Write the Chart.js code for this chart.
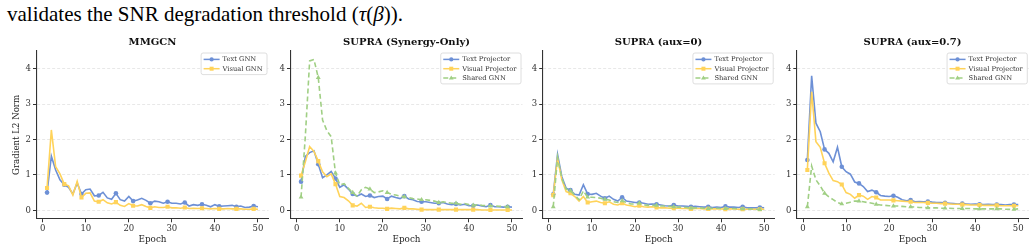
<!DOCTYPE html>
<html>
<head>
<meta charset="utf-8">
<script src="https://cdn.jsdelivr.net/npm/chart.js@4/dist/chart.umd.min.js"></script>
<style>
  body { margin: 0; width: 1036px; height: 251px; overflow: hidden; background: #fff; position: relative; }
  #cap { position: absolute; left: 7px; top: 2px; font: 21px/24px "Liberation Serif", serif; color: #000; white-space: nowrap; }
  canvas { position: absolute; top: 30px; }
</style>
</head>
<body>
<div id="cap">validates the SNR degradation threshold (<i>τ</i>(<i>β</i>)).</div>
<canvas id="c0" width="305" height="221" style="left:0px"></canvas>
<canvas id="c1" width="305" height="221" style="left:254px"></canvas>
<canvas id="c2" width="305" height="221" style="left:506px"></canvas>
<canvas id="c3" width="305" height="221" style="left:760px"></canvas>
<script>
// epochs and axis ticks
const epochs = [1,2,3,4,5,6,7,8,9,10,11,12,13,14,15,16,17,18,19,20,21,22,23,24,25,
                26,27,28,29,30,31,32,33,34,35,36,37,38,39,40,41,42,43,44,45,46,47,48,49,50];
const xTicks = [0, 10, 20, 30, 40, 50];
const yTicks = [0, 1, 2, 3, 4];
const titles = ["MMGCN", "SUPRA (Synergy-Only)", "SUPRA (aux=0)", "SUPRA (aux=0.7)"];

// MMGCN
const mmgcnText = [0.50,1.53,1.14,0.86,0.72,0.65,0.46,0.77,0.46,0.58,
                   0.60,0.41,0.42,0.51,0.35,0.31,0.48,0.30,0.26,0.39,
                   0.26,0.29,0.34,0.28,0.20,0.26,0.24,0.20,0.24,0.20,
                   0.20,0.18,0.22,0.12,0.16,0.14,0.17,0.14,0.10,0.16,
                   0.11,0.12,0.13,0.14,0.10,0.12,0.08,0.09,0.12,0.10];
const mmgcnVisual = [0.63,2.27,1.23,1.03,0.74,0.69,0.43,0.82,0.36,0.48,
                     0.49,0.26,0.24,0.30,0.21,0.18,0.23,0.14,0.11,0.19,
                     0.13,0.12,0.16,0.11,0.07,0.10,0.08,0.08,0.10,0.07,
                     0.07,0.06,0.08,0.05,0.06,0.05,0.06,0.05,0.04,0.05,
                     0.04,0.04,0.05,0.04,0.04,0.04,0.03,0.03,0.04,0.03];

// SUPRA (Synergy-Only)
const synText = [0.81,1.52,1.63,1.68,1.30,0.92,1.00,1.10,0.90,0.65,
                 0.72,0.60,0.46,0.40,0.46,0.39,0.42,0.36,0.39,0.40,
                 0.32,0.40,0.36,0.33,0.40,0.32,0.30,0.25,0.24,0.24,
                 0.22,0.20,0.20,0.22,0.18,0.16,0.18,0.15,0.17,0.13,
                 0.13,0.15,0.12,0.10,0.15,0.10,0.10,0.09,0.10,0.09];
const synVisual = [0.98,1.37,1.80,1.66,1.39,1.09,0.95,1.03,0.74,0.39,
                   0.36,0.27,0.14,0.12,0.20,0.08,0.10,0.07,0.06,0.06,
                   0.04,0.06,0.05,0.04,0.07,0.04,0.04,0.03,0.02,0.02,
                   0.02,0.02,0.02,0.02,0.02,0.02,0.02,0.02,0.02,0.02,
                   0.02,0.02,0.01,0.01,0.01,0.01,0.01,0.01,0.01,0.01];
const synShared = [0.37,2.10,4.22,4.26,3.75,2.55,2.25,2.08,1.05,0.72,
                   0.75,0.62,0.50,0.40,0.58,0.65,0.60,0.50,0.52,0.55,
                   0.50,0.45,0.43,0.40,0.38,0.36,0.33,0.32,0.30,0.30,
                   0.28,0.26,0.22,0.24,0.22,0.20,0.20,0.17,0.19,0.16,
                   0.14,0.16,0.14,0.13,0.12,0.13,0.11,0.11,0.10,0.10];

// SUPRA (aux=0)
const aux0Text = [0.45,1.58,0.95,0.62,0.57,0.45,0.43,0.72,0.46,0.45,
                  0.48,0.40,0.34,0.40,0.31,0.26,0.37,0.26,0.24,0.22,
                  0.22,0.20,0.17,0.18,0.17,0.15,0.13,0.12,0.15,0.12,
                  0.12,0.11,0.10,0.11,0.10,0.09,0.10,0.08,0.09,0.08,
                  0.11,0.09,0.09,0.08,0.10,0.07,0.07,0.07,0.08,0.07];
const aux0Visual = [0.43,1.47,0.86,0.53,0.48,0.39,0.26,0.39,0.22,0.24,
                    0.26,0.22,0.20,0.24,0.17,0.15,0.20,0.15,0.13,0.10,
                    0.13,0.10,0.09,0.10,0.08,0.07,0.07,0.06,0.06,0.06,
                    0.05,0.05,0.04,0.05,0.05,0.04,0.04,0.04,0.04,0.04,
                    0.03,0.04,0.04,0.03,0.03,0.03,0.03,0.03,0.03,0.03];
const aux0Shared = [0.10,1.50,0.90,0.60,0.55,0.43,0.30,0.55,0.37,0.37,
                    0.36,0.34,0.31,0.29,0.24,0.22,0.27,0.22,0.18,0.18,
                    0.20,0.15,0.14,0.14,0.14,0.12,0.12,0.11,0.10,0.09,
                    0.09,0.08,0.06,0.07,0.07,0.06,0.05,0.06,0.06,0.05,
                    0.05,0.05,0.05,0.04,0.04,0.04,0.04,0.03,0.02,0.03];

// SUPRA (aux=0.7)
const aux07Text = [1.42,3.80,2.46,2.22,1.72,1.61,1.37,1.78,1.23,1.09,
                   1.02,0.80,0.76,0.67,0.53,0.57,0.51,0.42,0.40,0.39,
                   0.41,0.37,0.30,0.27,0.29,0.24,0.25,0.24,0.25,0.23,
                   0.22,0.22,0.21,0.20,0.19,0.18,0.19,0.18,0.17,0.18,
                   0.17,0.16,0.17,0.16,0.16,0.16,0.15,0.16,0.16,0.16];
const aux07Visual = [1.14,3.35,1.94,1.78,1.33,1.05,0.84,0.81,0.73,0.50,
                     0.45,0.34,0.43,0.40,0.31,0.39,0.36,0.29,0.29,0.29,
                     0.28,0.27,0.26,0.25,0.24,0.22,0.22,0.22,0.21,0.20,
                     0.20,0.19,0.19,0.18,0.17,0.17,0.16,0.16,0.15,0.15,
                     0.15,0.14,0.14,0.14,0.14,0.13,0.13,0.13,0.13,0.13];
const aux07Shared = [0.10,1.25,0.86,0.69,0.48,0.38,0.30,0.22,0.18,0.20,
                     0.23,0.26,0.26,0.24,0.22,0.20,0.17,0.15,0.14,0.13,
                     0.12,0.12,0.11,0.10,0.10,0.09,0.08,0.08,0.07,0.07,
                     0.07,0.06,0.06,0.06,0.05,0.05,0.05,0.05,0.05,0.04,
                     0.04,0.04,0.04,0.04,0.04,0.04,0.03,0.03,0.03,0.04];

const BLUE = "#6d90d6", YELLOW = "#ffd35a", GREEN = "#a0cf84";
const FONT = "DejaVu Serif";

function textSet(label, data) {
    return { label: label, data: data, borderColor: BLUE, backgroundColor: BLUE,
             pointStyle: "circle", pointRadius: c => (c.dataIndex % 4 === 0 ? 2.3 : 0), order: 3 };
}
function visualSet(label, data) {
    return { label: label, data: data, borderColor: YELLOW, backgroundColor: YELLOW,
             pointStyle: "rect", pointRadius: c => (c.dataIndex % 4 === 0 ? 2.9 : 0), order: 2 };
}
function sharedSet(label, data) {
    return { label: label, data: data, borderColor: GREEN, backgroundColor: GREEN, borderDash: [5, 3],
             pointStyle: "triangle", pointRadius: c => (c.dataIndex % 4 === 0 ? 2.8 : 0), order: 1 };
}

const panels = [
    [textSet("Text GNN", mmgcnText), visualSet("Visual GNN", mmgcnVisual)],
    [textSet("Text Projector", synText), visualSet("Visual Projector", synVisual), sharedSet("Shared GNN", synShared)],
    [textSet("Text Projector", aux0Text), visualSet("Visual Projector", aux0Visual), sharedSet("Shared GNN", aux0Shared)],
    [textSet("Text Projector", aux07Text), visualSet("Visual Projector", aux07Visual), sharedSet("Shared GNN", aux07Shared)]
];
const canvasLeft = [0, 254, 506, 760];
const plotLeft = [36.5, 290.5, 542.7, 796.8];
const PLOT_W = 232;

// legend box drawn inside the plot, top right (like matplotlib's loc="upper right")
const insetLegend = {
    id: "insetLegend",
    afterDraw(chart) {
        const { ctx, chartArea } = chart;
        const sets = chart.data.datasets;
        ctx.save();
        ctx.font = "6.7px '" + FONT + "'";
        const tw = Math.max(...sets.map(d => ctx.measureText(d.label).width));
        const w = tw + 26, h = sets.length * 9.3 + 3;
        const x = chartArea.right - 1.5 - w, y = chartArea.top + 2;
        ctx.fillStyle = "rgba(255,255,255,0.85)";
        ctx.strokeStyle = "#d6d6d6";
        ctx.lineWidth = 0.8;
        ctx.beginPath();
        ctx.roundRect(x, y, w, h, 2);
        ctx.fill();
        ctx.stroke();
        sets.forEach((d, i) => {
            const cy = y + 6.4 + i * 9.3;
            ctx.strokeStyle = d.borderColor;
            ctx.lineWidth = 1.5;
            ctx.setLineDash(d.borderDash || []);
            ctx.beginPath();
            ctx.moveTo(x + 2.5, cy);
            ctx.lineTo(x + 18.5, cy);
            ctx.stroke();
            ctx.setLineDash([]);
            ctx.fillStyle = d.borderColor;
            const mx = x + 10.5;
            ctx.beginPath();
            if (d.pointStyle === "circle") {
                ctx.arc(mx, cy, 2.1, 0, Math.PI * 2);
            } else if (d.pointStyle === "rect") {
                ctx.rect(mx - 2, cy - 2, 4, 4);
            } else {
                ctx.moveTo(mx, cy - 2.6);
                ctx.lineTo(mx + 2.4, cy + 1.6);
                ctx.lineTo(mx - 2.4, cy + 1.6);
                ctx.closePath();
            }
            ctx.fill();
            ctx.fillStyle = "#333";
            ctx.textBaseline = "middle";
            ctx.fillText(d.label, x + 21.5, cy + 0.3);
        });
        ctx.restore();
    }
};

panels.forEach((sets, k) => {
    const yw = plotLeft[k] - canvasLeft[k];
    sets.forEach(s => {
        s.borderWidth = 1.6;
        s.tension = 0;
        s.pointBorderWidth = 0;
        s.pointHoverRadius = 0;
    });
    new Chart(document.getElementById("c" + k), {
        type: "line",
        data: { labels: epochs, datasets: sets },
        plugins: [insetLegend],
        options: {
            responsive: false,
            animation: false,
            events: [],
            layout: { padding: 0 },
            plugins: {
                legend: { display: false },
                tooltip: { enabled: false },
                title: {
                    display: true, text: titles[k], color: "#111",
                    font: { family: FONT, size: 10, weight: "bold" },
                    padding: { top: 6, bottom: 3 }
                }
            },
            scales: {
                x: {
                    type: "linear", min: -1.45, max: 52.45,
                    afterBuildTicks: s => { s.ticks = xTicks.map(v => ({ value: v })); },
                    afterFit: s => { s.height = 32.2; },
                    grid: { drawOnChartArea: false, tickLength: 3.5, tickColor: "#333", tickWidth: 1 },
                    border: { color: "#333", width: 1.1 },
                    ticks: { color: "#333", font: { family: FONT, size: 8.5 }, padding: 1, maxRotation: 0, autoSkip: false },
                    title: { display: true, text: "Epoch", color: "#222", font: { family: FONT, size: 8.8 },
                             padding: { top: 0, bottom: 6.1 } }
                },
                y: {
                    min: -0.24, max: 4.5,
                    afterBuildTicks: s => { s.ticks = yTicks.map(v => ({ value: v })); },
                    afterFit: s => { s.width = yw; },
                    grid: { color: "#e2e2e2", lineWidth: 0.8, tickLength: 3.5, tickColor: "#333", tickWidth: 1 },
                    border: { color: "#333", width: 1.1, dash: [3, 2] },
                    ticks: { color: "#333", font: { family: FONT, size: 8.5 }, padding: 2 },
                    title: { display: k === 0, text: "Gradient L2 Norm", color: "#222", font: { family: FONT, size: 8.6 },
                             padding: { top: 11.3, bottom: 0 } }
                },
                // empty right-hand axis: keeps the plot centred under the title
                yRight: {
                    axis: "y", position: "right",
                    afterFit: s => { s.width = 305 - yw - PLOT_W; },
                    grid: { display: false },
                    border: { display: false },
                    ticks: { display: false }
                }
            }
        }
    });
});
</script>
</body>
</html>
